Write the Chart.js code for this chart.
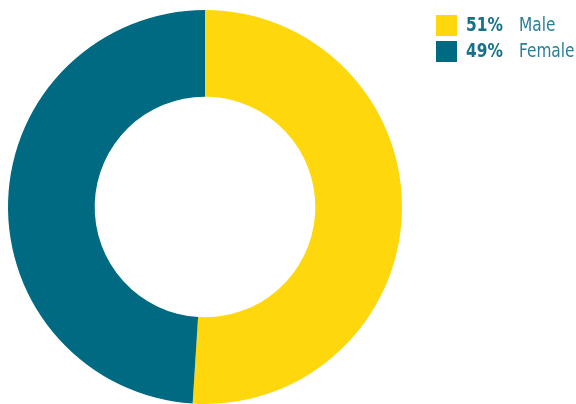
<!DOCTYPE html>
<html>
<head>
<meta charset="utf-8">
<script src="https://cdn.jsdelivr.net/npm/chart.js@4"></script>
<style>
  html, body { margin: 0; padding: 0; background: #fff; }
  #wrap { width: 576px; height: 404px; }
</style>
</head>
<body>
<div id="wrap"><canvas id="genderChart"></canvas></div>
<script>
const labels = ["Male", "Female"];
const shares = [51, 49];
const colors = ["#FED70C", "#006A83"];

const legendFont = "'DejaVu Sans Condensed', sans-serif";

// text squeezed a bit to look like the narrow font of the original
function narrowText(ctx, txt, x, y) {
    const w = ctx.measureText(txt).width;
    ctx.fillText(txt, x, y, w * 0.9);
}

// draws the legend in the top right corner: square, bold percent, label
const sideLegend = {
    id: "sideLegend",
    afterDraw(chart) {
        const ctx = chart.ctx;
        const ds = chart.data.datasets[0];
        ctx.save();
        ctx.textBaseline = "middle";
        chart.data.labels.forEach((lab, i) => {
            const y = 15 + i * 26;
            ctx.fillStyle = ds.backgroundColor[i];
            ctx.fillRect(436, y, 21, 21);
            ctx.fillStyle = "#15708A";
            ctx.font = "bold 19px " + legendFont;
            narrowText(ctx, ds.data[i] + "%", 466, y + 11);
            ctx.fillStyle = "#2A7F96";
            ctx.font = "19px " + legendFont;
            narrowText(ctx, lab, 519, y + 11);
        });
        ctx.restore();
    }
};

new Chart(document.getElementById("genderChart"), {
    type: "doughnut",
    data: {
        labels: labels,
        datasets: [{
            data: shares,
            backgroundColor: colors,
            borderWidth: 0
        }]
    },
    options: {
        responsive: true,
        maintainAspectRatio: false,
        animation: false,
        cutout: "56%",
        layout: { padding: { top: 10, bottom: 0, left: 7, right: 173 } },
        plugins: {
            legend: { display: false },
            tooltip: { enabled: false }
        }
    },
    plugins: [sideLegend]
});
</script>
</body>
</html>
